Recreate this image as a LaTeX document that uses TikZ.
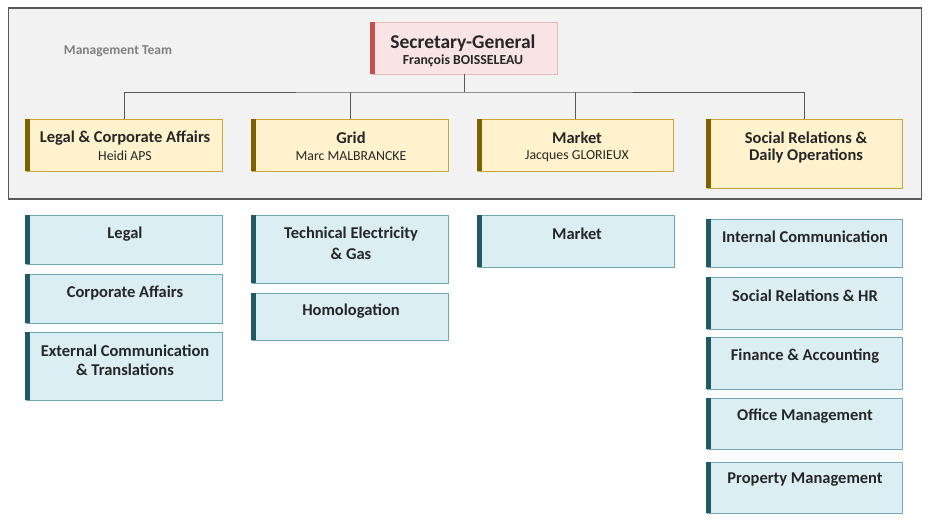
\documentclass[tikz,border=0pt]{standalone}
\usepackage{fontspec}
\setmainfont{Carlito}
\definecolor{frameFill}{HTML}{F2F2F2}
\definecolor{frameLine}{HTML}{595959}
\definecolor{secFill}{HTML}{F8E4E4}
\definecolor{secLine}{HTML}{E6B9B8}
\definecolor{secBar}{HTML}{C0504D}
\definecolor{yFill}{HTML}{FFF2CC}
\definecolor{yLine}{HTML}{C9A63C}
\definecolor{yBar}{HTML}{7F6000}
\definecolor{bFill}{HTML}{DBEEF4}
\definecolor{bLine}{HTML}{6FA6B8}
\definecolor{bBar}{HTML}{215967}
\definecolor{txt}{HTML}{262626}
\definecolor{mgmt}{HTML}{7F7F7F}
\tikzset{
  box/.style={rectangle, inner sep=0pt, line width=0.9pt},
  secbox/.style={box, fill=secFill, draw=secLine},
  ybox/.style={box, fill=yFill, draw=yLine},
  bbox/.style={box, fill=bFill, draw=bLine},
  ttl/.style={inner sep=0pt, yshift=-1pt, text=txt, font=\bfseries\fontsize{16.5}{18}\selectfont},
  sub/.style={inner sep=0pt, yshift=-1pt, text=txt, font=\fontsize{13.8}{15}\selectfont},
  conn/.style={draw=frameLine, line width=0.8pt},
}
\newcommand\sidebar[2]{\fill[#1] ([xshift=-0.45pt]#2.north west) rectangle ([xshift=4.5pt,yshift=0.45pt]#2.south west);}
\begin{document}
\begin{tikzpicture}[x=1pt,y=-1pt]
\useasboundingbox (0,0) rectangle (930,530);
\fill[white] (0,0) rectangle (930,530);
% frame
\node[box, fill=frameFill, draw=frameLine, line width=1.1pt, minimum width=913pt, minimum height=191pt] (frame) at (464.75,103.5) {};
\node[inner sep=0pt, text=mgmt, font=\bfseries\fontsize{13.5}{15}\selectfont] (mt) at (118,51) {Management Team};
% secretary general
\node[secbox, minimum width=186pt, minimum height=52pt] (sg) at (464,48) {};
\sidebar{secBar}{sg}
\node[ttl, font=\bfseries\fontsize{19.5}{21}\selectfont] (sgT) at (463,42) {Secretary-General};
\node[sub, font=\bfseries\fontsize{13.8}{15}\selectfont] (sgS) at (463,60) {François BOISSELEAU};
% level 2
\node[ybox, minimum width=196pt, minimum height=52pt] (legal) at (124,145) {};
\node[ybox, minimum width=196pt, minimum height=52pt] (grid) at (350,145) {};
\node[ybox, minimum width=195pt, minimum height=52pt] (market) at (575.5,145) {};
\node[ybox, minimum width=195pt, minimum height=69pt] (social) at (804.5,153.5) {};
\foreach \n in {legal,grid,market,social} {\sidebar{yBar}{\n}}
\node[ttl] (legalT) at (125,137) {Legal \& Corporate Affairs};
\node[sub] (legalS) at (125,155) {Heidi APS};
\node[ttl] (gridT) at (351,137) {Grid};
\node[sub] (gridS) at (351,155) {Marc MALBRANCKE};
\node[ttl] (marketT) at (577,137) {Market};
\node[sub] (marketS) at (577,155) {Jacques GLORIEUX};
\node[ttl] (socialT) at (806,137) {Social Relations \&};
\node[ttl] (socialS) at (806,155) {Daily Operations};
% connectors
\coordinate (bus) at (464,92);
\draw[conn] (sg.south) -- (bus);
\draw[conn] (legal.north) |- (bus) -| (social.north);
\draw[conn] (grid.north) -- (grid.north |- bus);
\draw[conn] (market.north) -- (market.north |- bus);
% level 3 column 1
\node[bbox, minimum width=196pt, minimum height=49pt] (c1a) at (124,239.5) {};
\node[bbox, minimum width=196pt, minimum height=49pt] (c1b) at (124,298.5) {};
\node[bbox, minimum width=196pt, minimum height=68pt] (c1c) at (124,366) {};
% column 2
\node[bbox, minimum width=196pt, minimum height=68pt] (c2a) at (350,249) {};
\node[bbox, minimum width=196pt, minimum height=47pt] (c2b) at (350,316.5) {};
% column 3
\node[bbox, minimum width=196pt, minimum height=52pt] (c3a) at (576,241) {};
% column 4
\node[bbox, minimum width=195pt, minimum height=48pt] (c4a) at (804.5,243) {};
\node[bbox, minimum width=195pt, minimum height=52pt] (c4b) at (804.5,303) {};
\node[bbox, minimum width=195pt, minimum height=52pt] (c4c) at (804.5,363) {};
\node[bbox, minimum width=195pt, minimum height=51pt] (c4d) at (804.5,423.5) {};
\node[bbox, minimum width=195pt, minimum height=51pt] (c4e) at (804.5,487.5) {};
\foreach \n in {c1a,c1b,c1c,c2a,c2b,c3a,c4a,c4b,c4c,c4d,c4e} {\sidebar{bBar}{\n}}
\node[ttl] (c1aT) at (125,233) {Legal};
\node[ttl] (c1bT) at (125,292) {Corporate Affairs};
\node[ttl] (c1cT) at (125,350) {External Communication};
\node[ttl] (c1cS) at (125,369) {\& Translations};
\node[ttl] (c2aT) at (351,233) {Technical Electricity};
\node[ttl] (c2aS) at (351,253) {\& Gas};
\node[ttl] (c2bT) at (351,310) {Homologation};
\node[ttl] (c3aT) at (577,233) {Market};
\node[ttl] (c4aT) at (805,236) {Internal Communication};
\node[ttl] (c4bT) at (805,295) {Social Relations \& HR};
\node[ttl] (c4cT) at (805,355) {Finance \& Accounting};
\node[ttl] (c4dT) at (805,415) {Office Management};
\node[ttl] (c4eT) at (805,479) {Property Management};
\end{tikzpicture}
\end{document}
